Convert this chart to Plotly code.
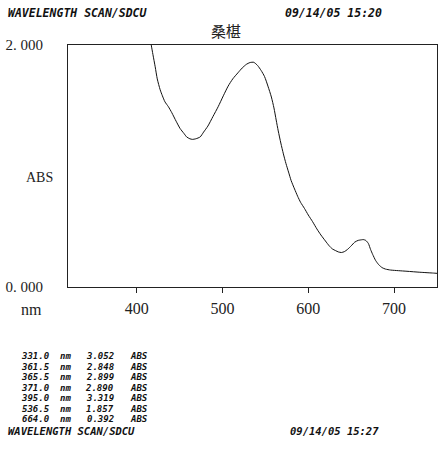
import plotly.graph_objects as go

# Absorbance spectrum of the sample (nm, ABS)
wavelength = [410, 414, 417, 419, 421.6, 424, 427.4, 430, 433, 437, 441, 446, 450.6, 455,
              458.3, 462, 465, 469, 474, 478, 483, 489, 495, 501, 506.6, 512, 518, 523,
              527.8, 532, 536.5, 541, 545, 549, 553, 557, 560, 562.6, 565, 568, 571, 574,
              577, 580, 584, 587.6, 591, 595.5, 600, 605, 610, 614.7, 620, 624.4, 628,
              632, 635, 638.6, 642, 645.6, 650, 654, 658, 662, 664, 667, 670, 672.6, 675,
              678.4, 682, 686, 690, 696, 705, 715, 730, 746, 750]
absorbance = [2.30, 2.12, 2.00, 1.92, 1.82, 1.72, 1.63, 1.58, 1.53, 1.49, 1.44, 1.37, 1.31,
              1.27, 1.24, 1.225, 1.22, 1.225, 1.24, 1.28, 1.33, 1.41, 1.49, 1.58, 1.66,
              1.72, 1.77, 1.81, 1.84, 1.855, 1.857, 1.83, 1.79, 1.74, 1.66, 1.57, 1.48,
              1.38, 1.29, 1.19, 1.10, 1.02, 0.95, 0.88, 0.81, 0.75, 0.70, 0.65, 0.595,
              0.54, 0.48, 0.43, 0.38, 0.34, 0.315, 0.30, 0.29, 0.285, 0.292, 0.31, 0.34,
              0.37, 0.385, 0.39, 0.392, 0.385, 0.36, 0.31, 0.27, 0.22, 0.185, 0.16, 0.148,
              0.14, 0.135, 0.13, 0.122, 0.115, 0.113]

# Peak pick table printed under the chart
peak_nm = [331.0, 361.5, 365.5, 371.0, 395.0, 536.5, 664.0]
peak_abs = [3.052, 2.848, 2.899, 2.890, 3.319, 1.857, 0.392]

x_ticks = [400, 500, 600, 700]
y_ticks = [0.0, 2.0]
y_tick_text = ["0. 000", "2. 000"]

title_text = "桑椹"
header_left = "WAVELENGTH SCAN/SDCU"
header_date = "09/14/05 15:20"
footer_date = "09/14/05 15:27"

W, H = 439, 450
ML, MR, MT, MB = 68, 2, 45, 163

fig = go.Figure()
fig.add_trace(go.Scatter(
    x=wavelength, y=absorbance, mode="lines",
    line=dict(color="#111111", width=1, shape="spline", smoothing=0.6),
    hoverinfo="x+y", showlegend=False,
))

serif = "Liberation Serif, Times New Roman, serif"
mono = "DejaVu Sans Mono, Liberation Mono, monospace"

fig.update_xaxes(
    range=[320, 750], tickvals=x_ticks, ticks="outside", ticklen=5,
    tickcolor="#222", tickwidth=1, showline=True, linecolor="#222", linewidth=1,
    mirror=True, showgrid=False, zeroline=False, ticklabelstandoff=2,
    tickfont=dict(family=serif, size=16, color="#222"),
)
fig.update_yaxes(
    range=[0, 2], tickvals=y_ticks, ticktext=y_tick_text, ticks="",
    showline=True, linecolor="#222", linewidth=1, mirror=True,
    showgrid=False, zeroline=False, ticklabelstandoff=21,
    tickfont=dict(family=serif, size=15, color="#222"),
)

PW = W - ML - MR
PH = H - MT - MB


def px_x(p):
    # page pixel -> paper coordinate across the plot area
    return (p - ML) / PW


def px_y(p):
    return 1 - (p - MT) / PH


def label(text, x, y, font, xanchor="left"):
    return dict(text=text, x=px_x(x), y=px_y(y), xref="paper", yref="paper",
                showarrow=False, xanchor=xanchor, yanchor="middle", font=font)


ann = []
ann.append(label(title_text, 226, 30,
                 dict(family="Noto Sans CJK SC", size=15, color="#222"), "center"))
ann.append(label("ABS", 39, 177, dict(family=serif, size=14, color="#222"), "center"))
ann.append(label("nm", 31, 309, dict(family=serif, size=16, color="#222"), "center"))

head_font = dict(family=mono, size=11.5, color="#111", weight=600)
ann.append(label("<i>" + header_left + "</i>", 6, 13, head_font))
ann.append(label("<i>" + header_date + "</i>", 283, 13, head_font))

# peak table: wavelength, unit, absorbance, unit in their own columns
table_font = dict(family=mono, size=9, color="#111", weight=600)
col_right_nm, col_unit_nm, col_right_abs, col_unit_abs = 52, 58, 116, 128
for i, (nm, ab) in enumerate(zip(peak_nm, peak_abs)):
    y = 356 + 10.5 * i
    ann.append(label("<i>%.1f</i>" % nm, col_right_nm, y, table_font, "right"))
    ann.append(label("<i>nm</i>", col_unit_nm, y, table_font))
    ann.append(label("<i>%.3f</i>" % ab, col_right_abs, y, table_font, "right"))
    ann.append(label("<i>ABS</i>", col_unit_abs, y, table_font))

foot_font = dict(family=mono, size=10.5, color="#111", weight=600)
ann.append(label("<i>" + header_left + "</i>", 6, 430.5, foot_font))
ann.append(label("<i>" + footer_date + "</i>", 288, 430.5, foot_font))

fig.update_layout(
    width=W, height=H, autosize=False,
    margin=dict(l=ML, r=MR, t=MT, b=MB, pad=0),
    paper_bgcolor="white", plot_bgcolor="white",
    annotations=ann, showlegend=False,
)

fig.write_html("out.html", config={"displayModeBar": False})
